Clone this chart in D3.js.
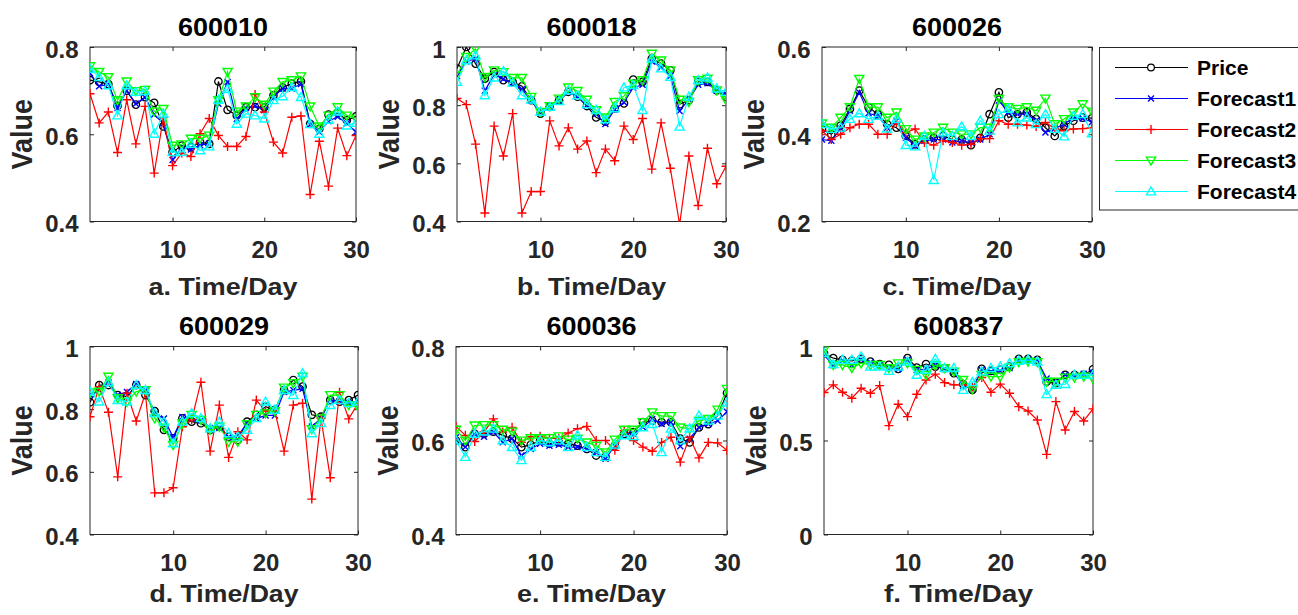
<!DOCTYPE html>
<html>
<head>
<meta charset="utf-8">
<script src="https://cdn.jsdelivr.net/npm/d3@7"></script>
<style>
  body { margin: 0; background: #fff; }
  svg { display: block; font-family: "Liberation Sans", Arial, Helvetica, sans-serif; }
</style>
</head>
<body>
<svg id="chart" width="1298" height="615"></svg>
<script>
// ---- data ----
const days = d3.range(1, 31);
const seriesNames = ["Price", "Forecast1", "Forecast2", "Forecast3", "Forecast4"];
const stockCodes = ["600010", "600018", "600026", "600029", "600036", "600837"];
const xLabels = ["a. Time/Day", "b. Time/Day", "c. Time/Day", "d. Time/Day", "e. Time/Day", "f. Time/Day"];
const xTickValues = [10, 20, 30];
const yTickValues = [[0.4, 0.6, 0.8], [0.4, 0.6, 0.8, 1], [0.2, 0.4, 0.6], [0.4, 0.6, 0.8, 1], [0.4, 0.6, 0.8], [0, 0.5, 1]];

const price_600010 = [0.724, 0.72, 0.715, 0.665, 0.70, 0.668, 0.685, 0.672, 0.618, 0.559, 0.574, 0.57, 0.582, 0.578, 0.721, 0.656, 0.643, 0.662, 0.662, 0.662, 0.689, 0.707, 0.716, 0.721, 0.624, 0.612, 0.645, 0.649, 0.632, 0.641];
const f1_600010 = [0.74, 0.71, 0.715, 0.66, 0.70, 0.67, 0.685, 0.645, 0.625, 0.541, 0.57, 0.565, 0.575, 0.578, 0.67, 0.72, 0.635, 0.66, 0.665, 0.655, 0.685, 0.705, 0.705, 0.715, 0.622, 0.605, 0.63, 0.64, 0.625, 0.605];
const f2_600010 = [0.693, 0.626, 0.651, 0.558, 0.679, 0.578, 0.664, 0.511, 0.638, 0.528, 0.557, 0.549, 0.601, 0.636, 0.597, 0.572, 0.572, 0.595, 0.691, 0.651, 0.582, 0.557, 0.639, 0.642, 0.462, 0.584, 0.481, 0.614, 0.551, 0.597];
const f3_600010 = [0.756, 0.743, 0.731, 0.678, 0.721, 0.699, 0.702, 0.652, 0.658, 0.574, 0.577, 0.59, 0.59, 0.597, 0.678, 0.743, 0.652, 0.664, 0.685, 0.668, 0.698, 0.72, 0.724, 0.733, 0.664, 0.618, 0.643, 0.662, 0.643, 0.636];
const f4_600010 = [0.75, 0.731, 0.712, 0.643, 0.712, 0.697, 0.699, 0.601, 0.647, 0.559, 0.559, 0.578, 0.563, 0.572, 0.679, 0.704, 0.624, 0.647, 0.643, 0.636, 0.678, 0.687, 0.708, 0.685, 0.623, 0.601, 0.633, 0.652, 0.62, 0.626];

const price_600018 = [0.926, 1.0, 0.943, 0.891, 0.914, 0.886, 0.88, 0.865, 0.817, 0.771, 0.794, 0.817, 0.846, 0.829, 0.797, 0.758, 0.743, 0.789, 0.806, 0.888, 0.88, 0.96, 0.943, 0.92, 0.803, 0.817, 0.88, 0.88, 0.851, 0.829];
const f1_600018 = [0.90, 0.95, 0.96, 0.85, 0.905, 0.89, 0.875, 0.855, 0.815, 0.775, 0.795, 0.815, 0.845, 0.83, 0.80, 0.77, 0.735, 0.785, 0.81, 0.86, 0.87, 0.95, 0.93, 0.90, 0.78, 0.82, 0.87, 0.875, 0.85, 0.84];
const f2_600018 = [0.823, 0.802, 0.666, 0.429, 0.728, 0.625, 0.771, 0.429, 0.503, 0.503, 0.746, 0.66, 0.722, 0.649, 0.677, 0.568, 0.649, 0.609, 0.728, 0.682, 0.754, 0.58, 0.739, 0.583, 0.39, 0.625, 0.455, 0.652, 0.53, 0.59];
const f3_600018 = [0.903, 0.966, 0.994, 0.897, 0.92, 0.914, 0.894, 0.894, 0.829, 0.777, 0.797, 0.823, 0.861, 0.849, 0.819, 0.783, 0.758, 0.811, 0.831, 0.874, 0.886, 0.977, 0.954, 0.92, 0.819, 0.811, 0.886, 0.891, 0.851, 0.817];
const f4_600018 = [0.88, 0.954, 0.971, 0.834, 0.895, 0.917, 0.877, 0.834, 0.819, 0.777, 0.794, 0.814, 0.851, 0.834, 0.803, 0.783, 0.751, 0.789, 0.861, 0.869, 0.783, 0.96, 0.926, 0.897, 0.726, 0.829, 0.886, 0.895, 0.857, 0.846];

const price_600026 = [0.412, 0.40, 0.42, 0.458, 0.50, 0.462, 0.446, 0.423, 0.415, 0.396, 0.377, 0.388, 0.392, 0.396, 0.388, 0.388, 0.375, 0.392, 0.446, 0.496, 0.438, 0.446, 0.45, 0.435, 0.415, 0.396, 0.419, 0.431, 0.438, 0.437];
const f1_600026 = [0.388, 0.385, 0.413, 0.454, 0.496, 0.448, 0.442, 0.415, 0.431, 0.392, 0.373, 0.385, 0.388, 0.388, 0.381, 0.385, 0.381, 0.388, 0.40, 0.477, 0.45, 0.446, 0.446, 0.431, 0.404, 0.413, 0.423, 0.438, 0.436, 0.428];
const f2_600026 = [0.408, 0.388, 0.40, 0.415, 0.423, 0.423, 0.40, 0.40, 0.427, 0.404, 0.412, 0.381, 0.375, 0.385, 0.381, 0.375, 0.377, 0.39, 0.39, 0.431, 0.423, 0.423, 0.421, 0.418, 0.427, 0.413, 0.408, 0.412, 0.413, 0.415];
const f3_600026 = [0.425, 0.415, 0.438, 0.462, 0.527, 0.462, 0.462, 0.438, 0.45, 0.412, 0.388, 0.395, 0.404, 0.415, 0.404, 0.40, 0.40, 0.415, 0.415, 0.481, 0.462, 0.458, 0.462, 0.454, 0.482, 0.423, 0.435, 0.45, 0.469, 0.452];
const f4_600026 = [0.423, 0.412, 0.415, 0.435, 0.448, 0.435, 0.442, 0.413, 0.435, 0.375, 0.372, 0.396, 0.295, 0.404, 0.396, 0.418, 0.396, 0.431, 0.408, 0.446, 0.458, 0.427, 0.438, 0.423, 0.446, 0.412, 0.395, 0.442, 0.446, 0.402];

const price_600029 = [0.822, 0.877, 0.877, 0.845, 0.84, 0.877, 0.845, 0.794, 0.734, 0.707, 0.771, 0.76, 0.755, 0.734, 0.744, 0.712, 0.702, 0.76, 0.782, 0.808, 0.798, 0.861, 0.893, 0.872, 0.782, 0.776, 0.829, 0.824, 0.829, 0.845];
const f1_600029 = [0.845, 0.86, 0.885, 0.845, 0.855, 0.88, 0.86, 0.785, 0.77, 0.71, 0.775, 0.77, 0.765, 0.74, 0.74, 0.71, 0.715, 0.755, 0.77, 0.78, 0.78, 0.855, 0.86, 0.865, 0.745, 0.77, 0.83, 0.825, 0.82, 0.825];
const f2_600029 = [0.776, 0.872, 0.79, 0.584, 0.851, 0.762, 0.851, 0.533, 0.533, 0.549, 0.744, 0.766, 0.886, 0.666, 0.813, 0.646, 0.728, 0.702, 0.829, 0.794, 0.794, 0.666, 0.813, 0.819, 0.513, 0.771, 0.581, 0.854, 0.769, 0.819];
const f3_600029 = [0.854, 0.856, 0.904, 0.835, 0.824, 0.856, 0.861, 0.771, 0.741, 0.686, 0.755, 0.782, 0.766, 0.734, 0.744, 0.696, 0.696, 0.752, 0.782, 0.787, 0.794, 0.869, 0.883, 0.904, 0.736, 0.771, 0.845, 0.845, 0.813, 0.808];
const f4_600029 = [0.856, 0.824, 0.886, 0.829, 0.824, 0.877, 0.861, 0.787, 0.76, 0.691, 0.76, 0.787, 0.771, 0.739, 0.76, 0.723, 0.712, 0.734, 0.771, 0.824, 0.798, 0.861, 0.845, 0.915, 0.723, 0.755, 0.813, 0.829, 0.819, 0.824];

const price_600036 = [0.60, 0.586, 0.614, 0.614, 0.619, 0.611, 0.604, 0.586, 0.591, 0.60, 0.593, 0.596, 0.593, 0.589, 0.582, 0.568, 0.565, 0.589, 0.614, 0.618, 0.639, 0.642, 0.639, 0.639, 0.604, 0.596, 0.628, 0.635, 0.653, 0.701];
const f1_600036 = [0.607, 0.586, 0.614, 0.608, 0.618, 0.596, 0.604, 0.568, 0.582, 0.593, 0.589, 0.591, 0.586, 0.586, 0.582, 0.575, 0.561, 0.589, 0.614, 0.614, 0.628, 0.646, 0.635, 0.639, 0.588, 0.604, 0.628, 0.635, 0.642, 0.661];
const f2_600036 = [0.63, 0.611, 0.598, 0.618, 0.646, 0.618, 0.628, 0.596, 0.608, 0.609, 0.605, 0.604, 0.616, 0.625, 0.63, 0.60, 0.60, 0.579, 0.621, 0.60, 0.586, 0.577, 0.596, 0.607, 0.554, 0.607, 0.563, 0.596, 0.595, 0.579];
const f3_600036 = [0.623, 0.60, 0.632, 0.633, 0.633, 0.623, 0.619, 0.60, 0.605, 0.605, 0.605, 0.609, 0.602, 0.604, 0.596, 0.589, 0.575, 0.602, 0.623, 0.623, 0.639, 0.66, 0.652, 0.652, 0.628, 0.625, 0.642, 0.646, 0.666, 0.71];
const f4_600036 = [0.60, 0.565, 0.614, 0.619, 0.625, 0.60, 0.586, 0.558, 0.586, 0.60, 0.596, 0.60, 0.586, 0.611, 0.586, 0.575, 0.565, 0.591, 0.611, 0.609, 0.628, 0.635, 0.575, 0.625, 0.60, 0.626, 0.653, 0.642, 0.653, 0.681];

const price_600837 = [0.964, 0.938, 0.929, 0.924, 0.934, 0.92, 0.906, 0.902, 0.881, 0.938, 0.888, 0.906, 0.893, 0.885, 0.858, 0.80, 0.769, 0.881, 0.87, 0.876, 0.893, 0.934, 0.934, 0.929, 0.813, 0.805, 0.849, 0.849, 0.849, 0.879];
const f1_600837 = [0.955, 0.90, 0.925, 0.90, 0.93, 0.915, 0.90, 0.885, 0.88, 0.93, 0.875, 0.88, 0.90, 0.88, 0.865, 0.79, 0.775, 0.875, 0.865, 0.87, 0.885, 0.925, 0.93, 0.925, 0.83, 0.81, 0.85, 0.845, 0.855, 0.86];
const f2_600837 = [0.755, 0.796, 0.757, 0.725, 0.778, 0.751, 0.792, 0.579, 0.693, 0.627, 0.746, 0.822, 0.853, 0.808, 0.796, 0.796, 0.785, 0.835, 0.757, 0.80, 0.751, 0.68, 0.657, 0.609, 0.426, 0.707, 0.556, 0.654, 0.604, 0.668];
const f3_600837 = [0.982, 0.902, 0.902, 0.885, 0.911, 0.902, 0.902, 0.885, 0.911, 0.911, 0.876, 0.849, 0.902, 0.885, 0.867, 0.822, 0.774, 0.849, 0.84, 0.84, 0.888, 0.917, 0.92, 0.917, 0.813, 0.813, 0.835, 0.835, 0.84, 0.828];
const f4_600837 = [0.964, 0.906, 0.929, 0.929, 0.947, 0.893, 0.893, 0.87, 0.893, 0.92, 0.849, 0.876, 0.934, 0.885, 0.885, 0.769, 0.81, 0.867, 0.885, 0.893, 0.911, 0.924, 0.929, 0.92, 0.746, 0.796, 0.80, 0.849, 0.849, 0.849];

// one row of five series per panel
const panelSeries = [
  [price_600010, f1_600010, f2_600010, f3_600010, f4_600010],
  [price_600018, f1_600018, f2_600018, f3_600018, f4_600018],
  [price_600026, f1_600026, f2_600026, f3_600026, f4_600026],
  [price_600029, f1_600029, f2_600029, f3_600029, f4_600029],
  [price_600036, f1_600036, f2_600036, f3_600036, f4_600036],
  [price_600837, f1_600837, f2_600837, f3_600837, f4_600837]
];

// ---- style / layout ----
const colors = ["#000000", "#0000ff", "#ff0000", "#00ff00", "#00ffff"];
const markers = ["circle", "x", "plus", "down", "up"];
const axisColor = "#262626";

// axes boxes, MATLAB-like subplot positions
const boxes = [
  { x0: 90,  x1: 356,  y0: 47,    y1: 221.5 },
  { x0: 457, x1: 726,  y0: 47,    y1: 221.5 },
  { x0: 822, x1: 1092, y0: 47,    y1: 221.5 },
  { x0: 90,  x1: 358,  y0: 346.5, y1: 534.5 },
  { x0: 456, x1: 727,  y0: 346.5, y1: 534.5 },
  { x0: 824, x1: 1093, y0: 346.5, y1: 534.5 }
];
const titleOffset = [11, 11, 11, 11.5, 11.5, 11.5];
const xLabelOffset = [73.5, 73.5, 73.5, 67, 67, 67];

const svg = d3.select("#chart");

function markerPath(type) {
  switch (type) {
    case "x":    return "M-3,-3L3,3M-3,3L3,-3";
    case "plus": return "M-4.5,0H4.5M0,-4.5V4.5";
    case "down": return "M-4.6,-3.4L4.6,-3.4L0,4.6Z";
    case "up":   return "M-4.6,3.4L4.6,3.4L0,-4.6Z";
  }
  return null;
}

boxes.forEach((b, i) => {
  const ticksY = yTickValues[i];
  const x = d3.scaleLinear().domain([1, 30]).range([b.x0, b.x1]);
  const y = d3.scaleLinear().domain(d3.extent(ticksY)).range([b.y1, b.y0]);
  const g = svg.append("g");

  const clipId = "clip" + i;
  svg.append("clipPath").attr("id", clipId)
    .append("rect")
    .attr("x", b.x0).attr("y", b.y0)
    .attr("width", b.x1 - b.x0).attr("height", b.y1 - b.y0);

  // axes with inward ticks
  const fmt = d => String(+d.toFixed(2));
  const bottom = g.append("g").attr("transform", `translate(0,${b.y1})`)
    .call(d3.axisBottom(x).tickValues(xTickValues).tickSizeInner(-4).tickSizeOuter(0).tickPadding(19.5).tickFormat(fmt));
  const top = g.append("g").attr("transform", `translate(0,${b.y0})`)
    .call(d3.axisTop(x).tickValues(xTickValues).tickSizeInner(-4).tickSizeOuter(0).tickFormat(""));
  const left = g.append("g").attr("transform", `translate(${b.x0},0)`)
    .call(d3.axisLeft(y).tickValues(ticksY).tickSizeInner(-4).tickSizeOuter(0).tickPadding(11.5).tickFormat(fmt));
  const right = g.append("g").attr("transform", `translate(${b.x1},0)`)
    .call(d3.axisRight(y).tickValues(ticksY).tickSizeInner(-4).tickSizeOuter(0).tickFormat(""));

  [bottom, top, left, right].forEach(a => {
    a.select(".domain").remove();
    a.selectAll(".tick line").attr("stroke", axisColor).attr("stroke-width", 1);
    a.selectAll(".tick text")
      .attr("fill", axisColor)
      .style("font-size", "24px")
      .style("font-weight", "bold")
      .style("font-family", "'Liberation Sans', Arial, sans-serif");
  });
  left.selectAll(".tick text").attr("dy", "0.42em");

  g.append("rect")
    .attr("x", b.x0).attr("y", b.y0)
    .attr("width", b.x1 - b.x0).attr("height", b.y1 - b.y0)
    .attr("fill", "none").attr("stroke", axisColor).attr("stroke-width", 1);

  // series lines + markers
  const plot = g.append("g").attr("clip-path", `url(#${clipId})`);
  const line = d3.line().x((d, k) => x(days[k])).y(d => y(d));
  panelSeries[i].forEach((vals, s) => {
    plot.append("path")
      .attr("d", line(vals))
      .attr("fill", "none")
      .attr("stroke", colors[s])
      .attr("stroke-width", 1.2);
    const pts = plot.append("g").selectAll("g").data(vals).join("g")
      .attr("transform", (d, k) => `translate(${x(days[k])},${y(d)})`);
    if (markers[s] === "circle") {
      pts.append("circle").attr("r", 3.7)
        .attr("fill", "none").attr("stroke", colors[s]).attr("stroke-width", 1.3);
    } else {
      pts.append("path").attr("d", markerPath(markers[s]))
        .attr("fill", "none").attr("stroke", colors[s]).attr("stroke-width", 1.4);
    }
  });

  // title and labels (the source figure is slightly stretched horizontally)
  const cx = (b.x0 + b.x1) / 2;
  g.append("text")
    .attr("x", cx).attr("y", b.y0 - titleOffset[i])
    .attr("text-anchor", "middle")
    .attr("textLength", 90).attr("lengthAdjust", "spacingAndGlyphs")
    .style("font-size", "25px").style("font-weight", "bold")
    .attr("fill", "#000")
    .text(stockCodes[i]);

  g.append("text")
    .attr("x", cx).attr("y", b.y1 + xLabelOffset[i])
    .attr("text-anchor", "middle")
    .attr("textLength", 149).attr("lengthAdjust", "spacingAndGlyphs")
    .style("font-size", "24px").style("font-weight", "bold")
    .attr("fill", axisColor)
    .text(xLabels[i]);

  g.append("text")
    .attr("transform", `translate(${b.x0 - 58},${(b.y0 + b.y1) / 2}) scale(1.1,1) rotate(-90)`)
    .attr("text-anchor", "middle")
    .style("font-size", "27px").style("font-weight", "bold")
    .attr("fill", axisColor)
    .text("Value");
});

// ---- legend ----
const legend = svg.append("g");
legend.append("rect")
  .attr("x", 1099.5).attr("y", 47.5)
  .attr("width", 210).attr("height", 162.5)
  .attr("fill", "#fff").attr("stroke", axisColor).attr("stroke-width", 1);

const legendY = d3.scalePoint().domain(seriesNames).range([67.5, 191.5]);
seriesNames.forEach((name, s) => {
  const ly = legendY(name);
  legend.append("line")
    .attr("x1", 1115).attr("x2", 1188).attr("y1", ly).attr("y2", ly)
    .attr("stroke", colors[s]).attr("stroke-width", 1.2);
  const m = legend.append("g").attr("transform", `translate(1151,${ly})`);
  if (markers[s] === "circle") {
    m.append("circle").attr("r", 3.4).attr("fill", "#fff").attr("stroke", colors[s]).attr("stroke-width", 1.2);
  } else {
    m.append("path").attr("d", markerPath(markers[s])).attr("fill", "none")
      .attr("stroke", colors[s]).attr("stroke-width", 1.4);
  }
  legend.append("text")
    .attr("x", 1197).attr("y", ly + 7.6)
    .style("font-size", "21px").style("font-weight", "bold")
    .attr("fill", "#000")
    .text(name);
});
</script>
</body>
</html>
